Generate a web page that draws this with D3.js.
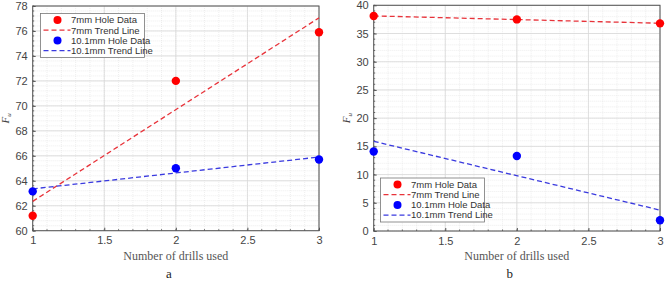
<!DOCTYPE html>
<html>
<head>
<meta charset="utf-8">
<script src="https://cdn.jsdelivr.net/npm/d3@7"></script>
<style>
  body { margin: 0; background: #fff; }
  svg { display: block; }
  text { font-family: "Liberation Sans", Arial, sans-serif; }
</style>
</head>
<body>
<div id="chart"></div>
<script>
// drills used (x values)
const drills = [1, 2, 3];
const trendX = [1, 3];

// panel a
const holeA7   = [61.2, 72.0, 75.9];
const holeA10  = [63.15, 65.0, 65.7];
const trendA7  = [62.35, 77.05];
const trendA10 = [63.35, 65.9];

// panel b
const holeB7   = [38.1, 37.5, 36.8];
const holeB10  = [14.1, 13.3, 1.9];
const trendB7  = [38.12, 36.82];
const trendB10 = [15.9, 3.7];

const xTicks  = [1, 1.5, 2, 2.5, 3];
const yTicksA = [60, 62, 64, 66, 68, 70, 72, 74, 76, 78];
const yTicksB = [0, 5, 10, 15, 20, 25, 30, 35, 40];
const legendLabels = ["7mm Hole Data", "7mm Trend Line", "10.1mm Hole Data", "10.1mm Trend Line"];

const svg = d3.select('#chart').append('svg')
    .attr("width", 669).attr("height", 281);

function drawPanel(opt) {
  const g = svg.append("g");
  const x = d3.scaleLinear().domain([1, 3]).range([opt.left, opt.right]);
  const y = d3.scaleLinear().domain(opt.yDomain).range([opt.bottom, opt.top]);

  // minor grid
  const xMinor = d3.range(1, 3.0001, 0.1);
  const yMinor = d3.range(opt.yDomain[0], opt.yDomain[1] + 0.0001, opt.yMinorStep);
  g.append("g").selectAll("line").data(xMinor).enter().append("line")
    .attr("x1", d => x(d)).attr("x2", d => x(d))
    .attr("y1", opt.top).attr("y2", opt.bottom)
    .attr("stroke", "#e2e2e2").attr("stroke-width", 0.6).attr("stroke-dasharray", "1,1");
  g.append("g").selectAll("line").data(yMinor).enter().append("line")
    .attr("y1", d => y(d)).attr("y2", d => y(d))
    .attr("x1", opt.left).attr("x2", opt.right)
    .attr("stroke", "#e2e2e2").attr("stroke-width", 0.6).attr("stroke-dasharray", "1,1");

  // major grid
  g.append("g").selectAll("line").data(xTicks).enter().append("line")
    .attr("x1", d => x(d)).attr("x2", d => x(d))
    .attr("y1", opt.top).attr("y2", opt.bottom)
    .attr("stroke", "#d8d8d8").attr("stroke-width", 0.8);
  g.append("g").selectAll("line").data(opt.yTicks).enter().append("line")
    .attr("y1", d => y(d)).attr("y2", d => y(d))
    .attr("x1", opt.left).attr("x2", opt.right)
    .attr("stroke", "#d8d8d8").attr("stroke-width", 0.8);

  // axes
  const xAxis = d3.axisBottom(x).tickValues(xTicks).tickSize(-3).tickPadding(6)
    .tickFormat(d3.format("~g"));
  const yAxis = d3.axisLeft(y).tickValues(opt.yTicks).tickSize(-3).tickPadding(5);
  const gx = g.append("g").attr("transform", `translate(0,${opt.bottom})`).call(xAxis);
  const gy = g.append("g").attr("transform", `translate(${opt.left},0)`).call(yAxis);
  [gx, gy].forEach(a => {
    a.select(".domain").remove();
    a.selectAll("line").attr("stroke", "#555");
    a.selectAll("text").attr("fill", "#444").style("font-size", "11px");
  });
  // minor ticks inside
  g.append("g").selectAll("line").data(xMinor).enter().append("line")
    .attr("x1", d => x(d)).attr("x2", d => x(d))
    .attr("y1", opt.bottom).attr("y2", opt.bottom - 1.5).attr("stroke", "#666");
  g.append("g").selectAll("line").data(yMinor).enter().append("line")
    .attr("y1", d => y(d)).attr("y2", d => y(d))
    .attr("x1", opt.left).attr("x2", opt.left + 1.5).attr("stroke", "#666");

  // box
  g.append("rect")
    .attr("x", opt.left).attr("y", opt.top)
    .attr("width", opt.right - opt.left).attr("height", opt.bottom - opt.top)
    .attr("fill", "none").attr("stroke", "#555").attr("stroke-width", 1);

  // trend lines
  const line = d3.line().x(d => x(d[0])).y(d => y(d[1]));
  g.append("path").datum(d3.zip(trendX, opt.trend7)).attr("d", line)
    .attr("fill", "none").attr("stroke", "#e8333a").attr("stroke-width", 1.3)
    .attr("stroke-dasharray", "5,3");
  g.append("path").datum(d3.zip(trendX, opt.trend10)).attr("d", line)
    .attr("fill", "none").attr("stroke", "#3a3adf").attr("stroke-width", 1.3)
    .attr("stroke-dasharray", "5,3");

  // data points
  g.append("g").selectAll("circle").data(d3.zip(drills, opt.hole7)).enter().append("circle")
    .attr("cx", d => x(d[0])).attr("cy", d => y(d[1])).attr("r", 4.2).attr("fill", "#ff0000");
  g.append("g").selectAll("circle").data(d3.zip(drills, opt.hole10)).enter().append("circle")
    .attr("cx", d => x(d[0])).attr("cy", d => y(d[1])).attr("r", 4.2).attr("fill", "#0000ff");

  // labels
  g.append("text").attr("x", (opt.left + opt.right) / 2).attr("y", opt.bottom + 29)
    .attr("text-anchor", "middle").attr("fill", "#555")
    .style("font-family", "'Liberation Serif', 'Times New Roman', serif").style("font-size", "12px")
    .text("Number of drills used");
  const yl = g.append("text")
    .attr("transform", `translate(${opt.left - 24},${(opt.top + opt.bottom) / 2}) rotate(-90)`)
    .attr("text-anchor", "middle").attr("fill", "#444")
    .style("font-family", "'Liberation Serif', 'Times New Roman', serif").style("font-size", "11px")
    .style("font-style", "italic");
  yl.append("tspan").text("F");
  yl.append("tspan").attr("dy", 2).style("font-size", "7px").text("u");
  g.append("text").attr("x", (opt.left + opt.right) / 2 - 7).attr("y", 278)
    .attr("text-anchor", "middle").attr("fill", "#222")
    .style("font-family", "'Liberation Serif', 'Times New Roman', serif").style("font-size", "13px")
    .text(opt.letter);

  // legend
  const lg = g.append("g").attr("transform", `translate(${opt.legX},${opt.legY})`);
  lg.append("rect").attr("width", 104).attr("height", 44)
    .attr("fill", "#fff").attr("stroke", "#777").attr("stroke-width", 0.8);
  legendLabels.forEach((lab, i) => {
    const cy = 6.5 + i * 10.2;
    const col = i < 2 ? "#ff0000" : "#0000ff";
    if (i % 2 === 0) {
      lg.append("circle").attr("cx", 17).attr("cy", cy).attr("r", 4).attr("fill", col);
    } else {
      lg.append("line").attr("x1", 3).attr("x2", 30).attr("y1", cy).attr("y2", cy)
        .attr("stroke", i < 2 ? "#e8333a" : "#3a3adf").attr("stroke-width", 1.2)
        .attr("stroke-dasharray", "5,3");
    }
    lg.append("text").attr("x", 30.5).attr("y", cy).attr("dy", "0.35em")
      .attr("fill", "#333").style("font-size", "9.5px").text(lab);
  });
}

drawPanel({left: 32.7, right: 319, top: 6, bottom: 230.7, yDomain: [60, 78], yTicks: yTicksA,
  yMinorStep: 0.4, hole7: holeA7, hole10: holeA10, trend7: trendA7, trend10: trendA10,
  letter: "a", legX: 40.5, legY: 13.5});
drawPanel({left: 373.7, right: 660, top: 5.3, bottom: 231, yDomain: [0, 40], yTicks: yTicksB,
  yMinorStep: 1, hole7: holeB7, hole10: holeB10, trend7: trendB7, trend10: trendB10,
  letter: "b", legX: 380.5, legY: 178});
</script>
</body>
</html>
